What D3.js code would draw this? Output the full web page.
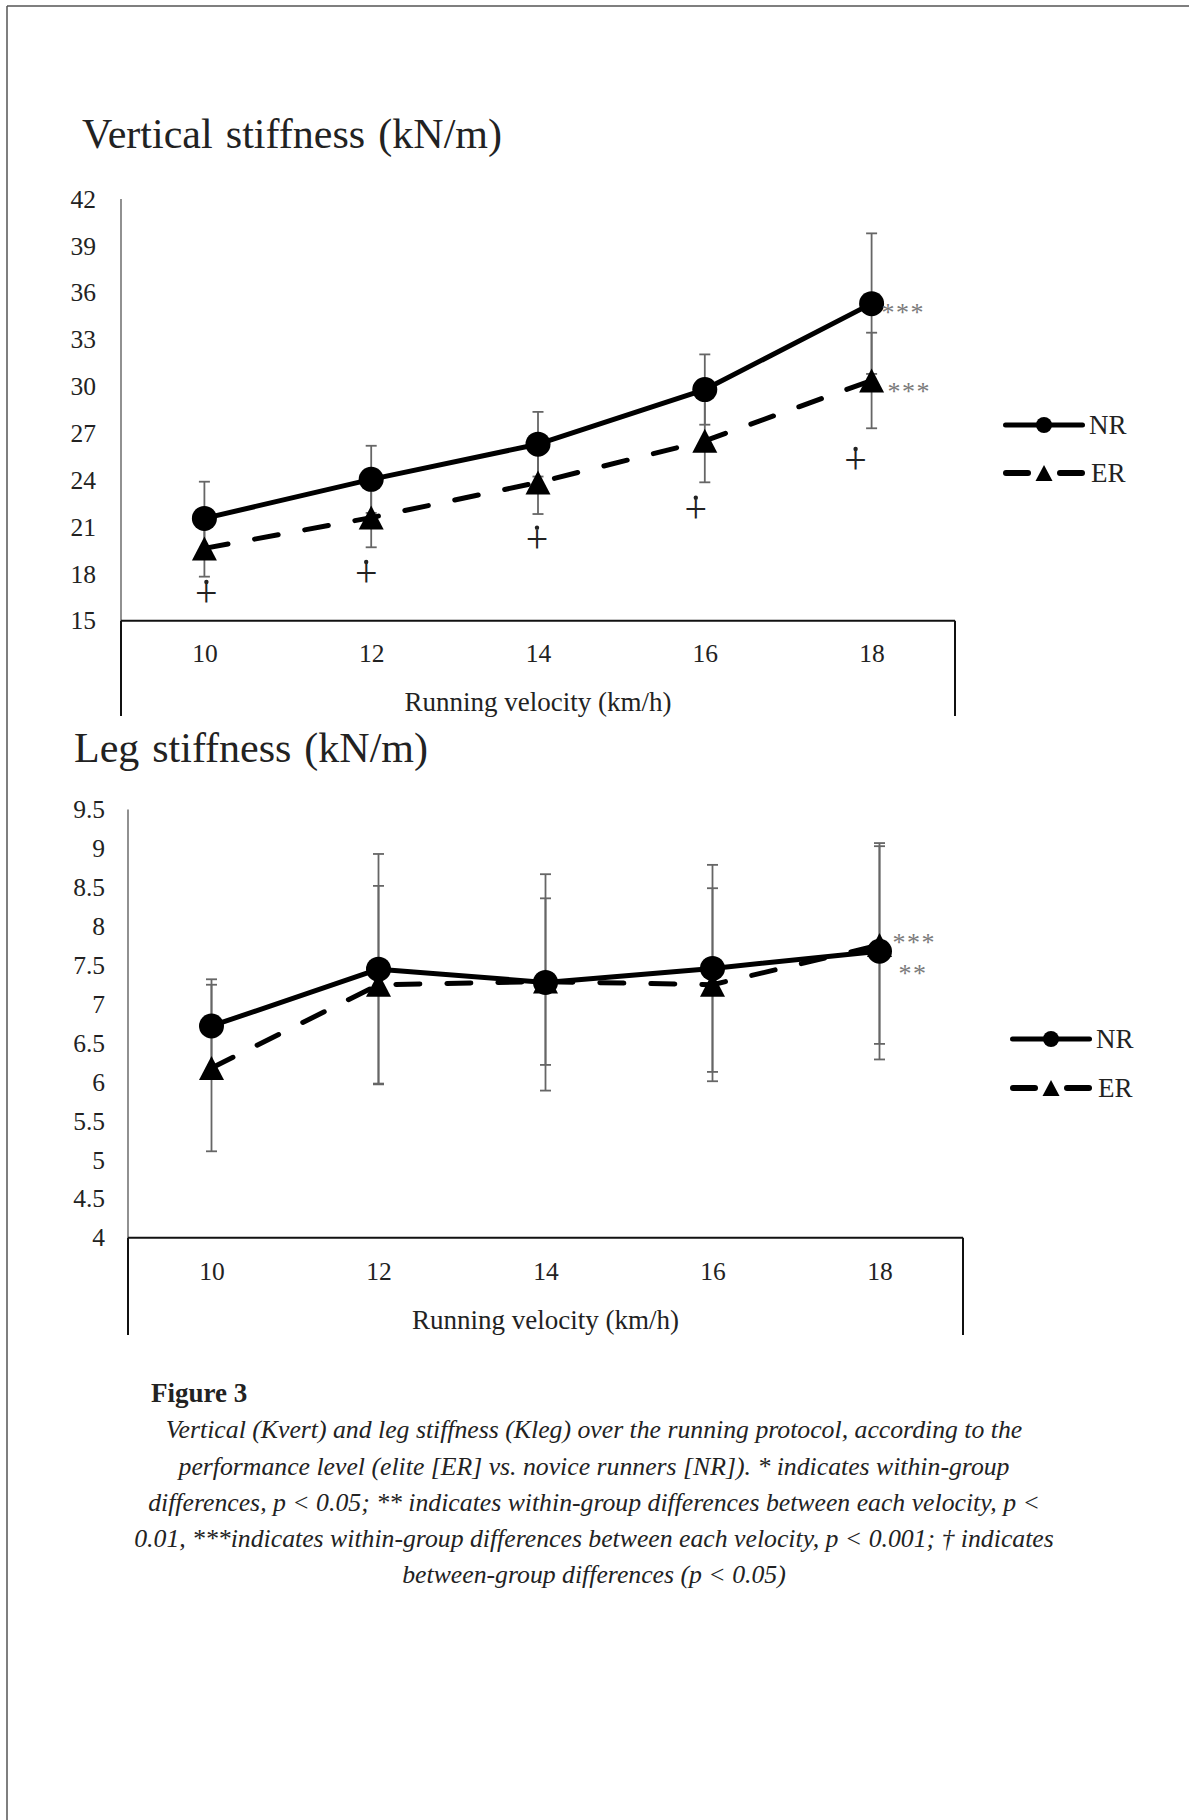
<!DOCTYPE html>
<html>
<head>
<meta charset="utf-8">
<script src="https://cdn.jsdelivr.net/npm/d3@7"></script>
<style>
  body { margin: 0; background: #fff; }
  svg { display: block; }
  text { font-family: "Liberation Serif", "Times New Roman", serif; fill: #222; }
</style>
</head>
<body>
<svg id="fig" width="1189" height="1820"></svg>
<script>
// ---- data ----
const velocities = [10, 12, 14, 16, 18];
const seriesNames = ["NR", "ER"];

// vertical stiffness (kN/m)
const vertTicks = [15, 18, 21, 24, 27, 30, 33, 36, 39, 42];
const vertNR = [21.55, 24.05, 26.3, 29.8, 35.3];
const vertNRsd = [2.35, 2.15, 2.07, 2.25, 4.5];
const vertER = [19.63, 21.6, 23.85, 26.52, 30.38];
const vertERsd = [1.81, 1.9, 2.02, 2.66, 3.06];
const vertDagger = [16.58, 17.86, 20.06, 21.98, 25.1];

// leg stiffness (kN/m)
const legTicks = [4, 4.5, 5, 5.5, 6, 6.5, 7, 7.5, 8, 8.5, 9, 9.5];
const legNR = [6.72, 7.45, 7.28, 7.46, 7.68];
const legNRsd = [0.6, 1.48, 1.39, 1.33, 1.39];
const legER = [6.18, 7.25, 7.29, 7.25, 7.76];
const legERsd = [1.07, 1.27, 1.07, 1.24, 1.27];

const captionTitle = "Figure 3";
const captionLines = [
  "Vertical (Kvert) and leg stiffness (Kleg) over the running protocol, according to the",
  "performance level (elite [ER] vs. novice runners [NR]). * indicates within-group",
  "differences, p < 0.05; ** indicates within-group differences between each velocity, p <",
  "0.01, ***indicates within-group differences between each velocity, p < 0.001; \u2020 indicates",
  "between-group differences (p < 0.05)"
];

const svg = d3.select("#fig");

// page frame (top and left edge only)
svg.append("line").attr("x1", 7).attr("y1", 6).attr("x2", 1189).attr("y2", 6)
  .attr("stroke", "#555").attr("stroke-width", 1.5);
svg.append("line").attr("x1", 7).attr("y1", 6).attr("x2", 7).attr("y2", 1820)
  .attr("stroke", "#555").attr("stroke-width", 1.5);

function fitWordSpacing(sel, target) {
  const w = sel.node().getComputedTextLength();
  const spaces = (sel.text().match(/ /g) || []).length;
  if (spaces) sel.attr("word-spacing", Math.max(0, (target - w) / spaces));
}

function trianglePath(w, h) {
  return "M0," + (-h / 2) + "L" + (w / 2) + "," + (h / 2) + "L" + (-w / 2) + "," + (h / 2) + "Z";
}

function drawPanel(c) {
  const g = svg.append("g");

  const x = d3.scalePoint().domain(velocities).range([c.left, c.right]).padding(0.5);
  const y = d3.scaleLinear().domain([c.ticks[0], c.ticks[c.ticks.length - 1]]).range([c.axisY, c.top]);

  // title
  const t = g.append("text").attr("x", c.titleX).attr("y", c.titleY)
    .attr("font-size", 42).text(c.title);
  fitWordSpacing(t, c.titleW);

  // axes (labels only, lines drawn separately)
  const ya = g.append("g").attr("transform", "translate(" + c.left + ",0)")
    .call(d3.axisLeft(y).tickValues(c.ticks).tickSize(0).tickPadding(c.yPad).tickFormat(d => String(d)));
  const xa = g.append("g").attr("transform", "translate(0," + c.axisY + ")")
    .call(d3.axisBottom(x).tickSize(0).tickPadding(c.xPad));
  [ya, xa].forEach(a => {
    a.select(".domain").remove();
    a.selectAll("text").attr("font-size", 25.5).attr("fill", "#222")
      .attr("font-family", "Liberation Serif, Times New Roman, serif");
  });

  // axis lines and the box under the category axis
  g.append("line").attr("x1", c.left).attr("x2", c.left).attr("y1", c.top).attr("y2", c.axisY)
    .attr("stroke", "#555").attr("stroke-width", 1.3);
  g.append("line").attr("x1", c.left).attr("x2", c.left).attr("y1", c.axisY).attr("y2", c.boxBottom)
    .attr("stroke", "#111").attr("stroke-width", 2);
  g.append("line").attr("x1", c.left).attr("x2", c.right).attr("y1", c.axisY).attr("y2", c.axisY)
    .attr("stroke", "#111").attr("stroke-width", 2);
  g.append("line").attr("x1", c.right).attr("x2", c.right).attr("y1", c.axisY).attr("y2", c.boxBottom)
    .attr("stroke", "#111").attr("stroke-width", 2);

  g.append("text").attr("x", (c.left + c.right) / 2).attr("y", c.axisTitleY)
    .attr("text-anchor", "middle").attr("font-size", 27).text("Running velocity (km/h)");

  const series = [
    { name: seriesNames[0], vals: c.nr, sd: c.nrSd, dash: null, marker: "circle" },
    { name: seriesNames[1], vals: c.er, sd: c.erSd, dash: "24,27", marker: "triangle" }
  ];

  // error bars
  series.forEach(s => {
    const eb = g.append("g").attr("stroke", "#666").attr("stroke-width", 1.8);
    velocities.forEach((v, i) => {
      const lo = y(s.vals[i] - s.sd[i]), hi = y(s.vals[i] + s.sd[i]), xx = x(v);
      eb.append("line").attr("x1", xx).attr("x2", xx).attr("y1", lo).attr("y2", hi);
      [lo, hi].forEach(yy => eb.append("line")
        .attr("x1", xx - 5.5).attr("x2", xx + 5.5).attr("y1", yy).attr("y2", yy));
    });
  });

  // lines
  const line = d3.line().x((d, i) => x(velocities[i])).y(d => y(d));
  series.slice().reverse().forEach(s => {
    g.append("path").datum(s.vals).attr("d", line)
      .attr("fill", "none").attr("stroke", "#000").attr("stroke-width", 5)
      .attr("stroke-linejoin", "round").attr("stroke-linecap", "round")
      .attr("stroke-dasharray", s.dash);
  });

  // markers
  series.forEach(s => {
    velocities.forEach((v, i) => {
      if (s.marker === "circle") {
        g.append("circle").attr("cx", x(v)).attr("cy", y(s.vals[i])).attr("r", 12.5).attr("fill", "#000");
      } else {
        g.append("path").attr("d", trianglePath(25, 24))
          .attr("transform", "translate(" + x(v) + "," + y(s.vals[i]) + ")").attr("fill", "#000");
      }
    });
  });

  // significance stars
  c.stars.forEach(st => {
    const s = series[st.series];
    const px = x(velocities[st.idx]), py = y(s.vals[st.idx]);
    g.append("text").attr("x", px + st.dx).attr("y", py + st.dy + 15)
      .attr("font-family", "DejaVu Sans, sans-serif").attr("font-size", 26)
      .attr("letter-spacing", 1.5).style("fill", "#7a7a7a").text(st.text);
  });

  // between-group daggers
  if (c.daggers) {
    const shift = [2, -5, -1, -9, -16];
    velocities.forEach((v, i) => {
      const xx = x(v) + shift[i], yy = y(c.daggers[i]);
      g.append("text").attr("x", xx).attr("y", yy + 10).attr("text-anchor", "middle")
        .attr("font-size", 40).attr("font-weight", 300).text("+");
      g.append("circle").attr("cx", xx).attr("cy", yy - 14).attr("r", 2.2).attr("fill", "#222");
    });
  }

  // legend
  const L = c.legend;
  const lg = g.append("g");
  const mid = (L.x0 + L.x1) / 2;
  lg.append("line").attr("x1", L.x0 + 2.5).attr("x2", L.x1 - 2.5).attr("y1", L.y0).attr("y2", L.y0)
    .attr("stroke", "#000").attr("stroke-width", 5).attr("stroke-linecap", "round");
  lg.append("circle").attr("cx", mid).attr("cy", L.y0).attr("r", 8).attr("fill", "#000");
  [[L.x0, L.x0 + 28], [L.x1 - 28, L.x1]].forEach(seg => lg.append("line")
    .attr("x1", seg[0] + 3).attr("x2", seg[1] - 3).attr("y1", L.y1).attr("y2", L.y1)
    .attr("stroke", "#000").attr("stroke-width", 6).attr("stroke-linecap", "round"));
  lg.append("path").attr("d", trianglePath(17, 16))
    .attr("transform", "translate(" + mid + "," + L.y1 + ")").attr("fill", "#000");
  lg.append("text").attr("x", L.tx).attr("y", L.y0 + 9).attr("font-size", 27).text(seriesNames[0]);
  lg.append("text").attr("x", L.tx + 2).attr("y", L.y1 + 9).attr("font-size", 27).text(seriesNames[1]);
}

drawPanel({
  title: "Vertical stiffness (kN/m)", titleX: 82, titleY: 148, titleW: 420,
  left: 121, right: 955, top: 199, axisY: 620.7, boxBottom: 716,
  ticks: vertTicks, yPad: 25, xPad: 23, axisTitleY: 711,
  nr: vertNR, nrSd: vertNRsd, er: vertER, erSd: vertERsd, daggers: vertDagger,
  stars: [
    { series: 0, idx: 4, text: "***", dx: 10, dy: 2 },
    { series: 1, idx: 4, text: "***", dx: 16, dy: 5 }
  ],
  legend: { x0: 1003, x1: 1085, y0: 425, y1: 473, tx: 1089 }
});

drawPanel({
  title: "Leg stiffness (kN/m)", titleX: 74, titleY: 762, titleW: 354,
  left: 128, right: 963, top: 809.6, axisY: 1237.7, boxBottom: 1335,
  ticks: legTicks, yPad: 23, xPad: 24, axisTitleY: 1329,
  nr: legNR, nrSd: legNRsd, er: legER, erSd: legERsd, daggers: null,
  stars: [
    { series: 0, idx: 4, text: "***", dx: 13, dy: -15 },
    { series: 0, idx: 4, text: "**", dx: 19, dy: 16 }
  ],
  legend: { x0: 1010, x1: 1092, y0: 1039, y1: 1088, tx: 1096 }
});

// caption
svg.append("text").attr("x", 151).attr("y", 1402).attr("font-size", 27)
  .attr("font-weight", "bold").text(captionTitle);

const capTargets = [844, 826, 897, 935];
const capBase = [1438, 1475, 1511, 1547, 1583];
const caps = captionLines.map((s, i) => svg.append("text")
  .attr("x", 594).attr("y", capBase[i]).attr("text-anchor", "middle")
  .attr("font-style", "italic").attr("font-size", 24).text(s));
const ratio = d3.mean(capTargets.map((w, i) => w / caps[i].node().getComputedTextLength()));
caps.forEach(c => c.attr("font-size", 24 * ratio));
</script>
</body>
</html>
